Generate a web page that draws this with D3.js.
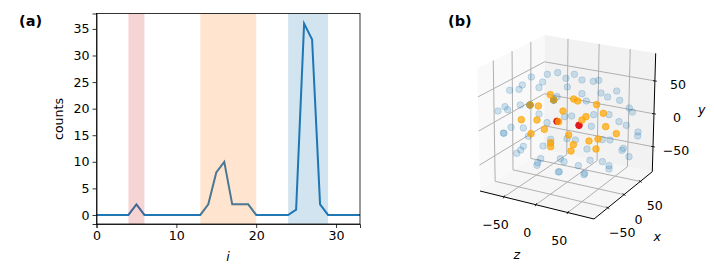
<!DOCTYPE html>
<html>
<head>
<meta charset="utf-8">
<script src="https://cdn.jsdelivr.net/npm/d3@7"></script>
<style>
  html, body { margin: 0; background: #fff; }
  svg { display: block; font-family: "DejaVu Sans", sans-serif; }
  text { fill: #000; }
  .axis text { font-size: 12.6px; font-family: "DejaVu Sans", sans-serif; }
  .axis path, .axis line { stroke: #000; stroke-width: 0.8; }
</style>
</head>
<body>
<svg width="714" height="280"></svg>
<script>
// panel (a): counts per index i
const counts = [0,0,0,0,0,2,0,0,0,0,0,0,0,0,2,8,10,2,2,2,0,0,0,0,0,1,36,33,2,0,0,0,0,0]
const spans = [[4, 6, '#d62728'], [13, 20, '#ff7f0e'], [24, 29, '#1f77b4']]
const xTicksA = [0, 10, 20, 30]
const yTicksA = [0, 5, 10, 15, 20, 25, 30, 35]

// panel (b): ticks of the 3d box
const ticks3d = [-50, 0, 50]

// panel (b): points as projected on the picture, in units of a 160x130 crop at 3x
const blueU = [124,172,203,228,253,276,310,326,158,147,97,87,59,232,333,380,353,389,276,289,201,91,45,53,24,147,245,224,171,311,357,387,409,418,427,304,63,100,40,42,115,182,231,256,337,360,444,443,159,100,92,80,291,400,396,417,152,211,222,143,141,265,300,337,357,357,208,205,284,282,182]
const blueV = [51,43,38,55,43,60,64,61,66,83,75,88,91,81,99,93,111,121,101,123,110,135,140,149,153,162,168,170,188,164,164,185,196,144,156,199,202,204,219,220,229,238,236,240,239,240,216,228,258,259,270,280,267,265,271,290,296,296,305,308,316,317,301,305,317,327,335,336,340,344,250]
const darkU = [120,191]
const darkV = [135,120]
const orangeU = [181,251,263,320,120,145,191,219,340,288,276,206,94,141,347,163,379,123,236,324,297,182,182,250,243,318]
const orangeV = [104,117,123,134,135,138,120,153,160,170,180,185,179,180,200,208,221,221,225,237,243,248,260,254,273,267]
const redU = [201,267]
const redV = [184,196]

const svg = d3.select('svg')

/* ---------- panel (a) ---------- */
const margin = {top: 13.5, right: 354, bottom: 56, left: 96.5}
const width = 714 - margin.left - margin.right
const height = 280 - margin.top - margin.bottom
const a = svg.append('g').attr('transform', 'translate(' + margin.left + ',' + margin.top + ')')

const x = d3.scaleLinear().domain([0, 33]).range([0, width])
const y = d3.scaleLinear().domain([-1.7, 37.9]).range([height, 0])

const line = d3.line().x((d, i) => x(i)).y(d => y(d))
a.append('path')
  .attr('d', line(counts))
  .attr('fill', 'none')
  .attr('stroke', '#1f77b4')
  .attr('stroke-width', 2)

// the spans sit over the line, that is why the line looks muted in the orange one
a.selectAll('.span')
  .data(spans)
  .enter()
  .append('rect')
  .attr('class', 'span')
  .attr('x', d => x(d[0]))
  .attr('y', 0)
  .attr('width', d => x(d[1]) - x(d[0]))
  .attr('height', height)
  .attr('fill', d => d[2])
  .attr('opacity', 0.2)

a.append('g')
  .attr('class', 'axis')
  .attr('transform', 'translate(0,' + height + ')')
  .call(d3.axisBottom(x).tickValues(xTicksA).tickSize(4).tickPadding(3))
a.append('g')
  .attr('class', 'axis')
  .call(d3.axisLeft(y).tickValues(yTicksA).tickSize(4).tickPadding(3))
a.append('rect')
  .attr('width', width)
  .attr('height', height)
  .attr('fill', 'none')
  .attr('stroke', '#000')
  .attr('stroke-width', 0.8)

svg.append('text').attr('x', 19).attr('y', 26).attr('font-size', 14.5).attr('font-weight', 'bold').text('(a)')
svg.append('text').attr('x', 448).attr('y', 26).attr('font-size', 14.5).attr('font-weight', 'bold').text('(b)')
svg.append('text').attr('x', 228).attr('y', 261).attr('text-anchor', 'middle').attr('font-size', 12.6).attr('font-style', 'italic').text('i')
svg.append('text')
  .attr('transform', 'translate(63,119) rotate(-90)')
  .attr('text-anchor', 'middle')
  .attr('font-size', 12.6)
  .text('counts')

/* ---------- panel (b) ---------- */
const b = svg.append('g')

// box corners on the picture, keyed x/y/z with 0 low and 1 high
const corners = {
  '000': [480, 191], '100': [544, 150], '001': [594, 219], '101': [652.3, 171.7],
  '010': [477.3, 68.3], '110': [544.7, 35], '011': [588.3, 86.6], '111': [655.7, 53.3]
}
const fx = d3.scaleLinear().domain([-92.4, 86.8]).range([0, 1])
const fy = d3.scaleLinear().domain([-88, 92]).range([0, 1])
const fz = d3.scaleLinear().domain([-87.5, 91]).range([0, 1])

// trilinear, close enough since the perspective is weak here
function project(px, py, pz) {
  const u = fx(px), v = fy(py), w = fz(pz)
  const out = [0, 0]
  for (const key in corners) {
    const k = (key[0] === '1' ? u : 1 - u) * (key[1] === '1' ? v : 1 - v) * (key[2] === '1' ? w : 1 - w)
    out[0] += k * corners[key][0]
    out[1] += k * corners[key][1]
  }
  return out
}
const xLo = fx.domain()[0], xHi = fx.domain()[1]
const yLo = fy.domain()[0], yHi = fy.domain()[1]
const zLo = fz.domain()[0], zHi = fz.domain()[1]

const panes = [
  {color: '#f9f9f9', pts: [[xLo, yLo, zLo], [xLo, yHi, zLo], [xHi, yHi, zLo], [xHi, yLo, zLo]]},
  {color: '#f2f2f2', pts: [[xHi, yLo, zLo], [xHi, yHi, zLo], [xHi, yHi, zHi], [xHi, yLo, zHi]]},
  {color: '#f6f6f6', pts: [[xLo, yLo, zLo], [xHi, yLo, zLo], [xHi, yLo, zHi], [xLo, yLo, zHi]]}
]
b.selectAll('.pane')
  .data(panes)
  .enter()
  .append('polygon')
  .attr('class', 'pane')
  .attr('points', d => d.pts.map(p => project(p[0], p[1], p[2]).join(',')).join(' '))
  .attr('fill', d => d.color)

// grid lines run over the three panes
const path3d = d3.line()
const grid = []
ticks3d.forEach(t => {
  grid.push([[t, yHi, zLo], [t, yLo, zLo], [t, yLo, zHi]])
  grid.push([[xLo, t, zLo], [xHi, t, zLo], [xHi, t, zHi]])
  grid.push([[xLo, yLo, t], [xHi, yLo, t], [xHi, yHi, t]])
})
b.selectAll('.grid')
  .data(grid)
  .enter()
  .append('path')
  .attr('class', 'grid')
  .attr('d', d => path3d(d.map(p => project(p[0], p[1], p[2]))))
  .attr('fill', 'none')
  .attr('stroke', '#b0b0b0')
  .attr('stroke-width', 1)

// the three black axis lines
const edges = [
  [[xLo, yLo, zLo], [xLo, yLo, zHi]],
  [[xLo, yLo, zHi], [xHi, yLo, zHi]],
  [[xHi, yLo, zHi], [xHi, yHi, zHi]]
]
b.selectAll('.edge')
  .data(edges)
  .enter()
  .append('path')
  .attr('class', 'edge')
  .attr('d', d => path3d(d.map(p => project(p[0], p[1], p[2]))))
  .attr('stroke', '#000')
  .attr('stroke-width', 1)

// tick marks and labels, offset from where the tick lands on its axis line
function tickLabels(at, mark, dx, dy) {
  ticks3d.forEach(t => {
    const p = at(t)
    b.append('line')
      .attr('x1', p[0] - mark[0]).attr('y1', p[1] - mark[1])
      .attr('x2', p[0] + mark[0]).attr('y2', p[1] + mark[1])
      .attr('stroke', '#000').attr('stroke-width', 0.8)
    b.append('text')
      .attr('x', p[0] + dx).attr('y', p[1] + dy)
      .attr('text-anchor', 'middle')
      .attr('dominant-baseline', 'central')
      .attr('font-size', 12.6)
      .text(String(t).replace('-', '\u2212'))
  })
}
tickLabels(t => project(xLo, yLo, t), [0.8, -1.5], -8.5, 28)
tickLabels(t => project(t, yLo, zHi), [1.5, 1], 14.5, 24.5)
tickLabels(t => project(xHi, t, zHi), [2, 0.3], 23, 3.3)

const axisNames = [['z', 516.7, 254.3], ['x', 657.3, 236], ['y', 701.7, 109.3]]
b.selectAll('.axis-name')
  .data(axisNames)
  .enter()
  .append('text')
  .attr('class', 'axis-name')
  .attr('x', d => d[1])
  .attr('y', d => d[2])
  .attr('text-anchor', 'middle')
  .attr('dominant-baseline', 'central')
  .attr('font-size', 12.6)
  .attr('font-style', 'italic')
  .text(d => d[0])

// scatter
const u = d3.scaleLinear().domain([0, 480]).range([490, 650])
const v = d3.scaleLinear().domain([0, 390]).range([60, 190])
function dots(us, vs, color, alpha, r) {
  b.append('g')
    .selectAll('circle')
    .data(us)
    .enter()
    .append('circle')
    .attr('cx', d => u(d))
    .attr('cy', (d, i) => v(vs[i]))
    .attr('r', r)
    .attr('fill', color)
    .attr('fill-opacity', alpha)
    .attr('stroke', color)
    .attr('stroke-opacity', alpha)
    .attr('stroke-width', 1)
}
dots(blueU, blueV, '#1f77b4', 0.2, 3.3)
dots(darkU, darkV, '#0075c8', 0.9, 3.3)
dots(redU, redV, '#e0191c', 1, 3.3)
dots(orangeU, orangeV, '#ffa500', 0.7, 3.3)
</script>
</body>
</html>
